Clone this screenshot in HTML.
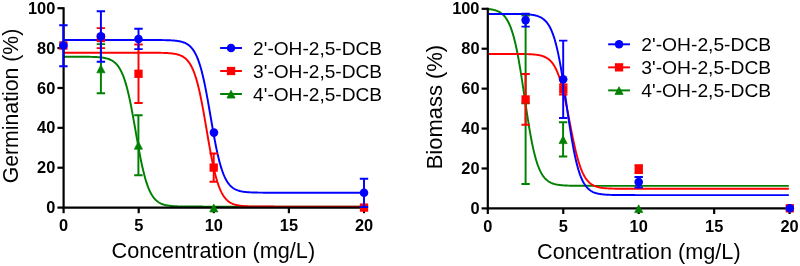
<!DOCTYPE html>
<html><head><meta charset="utf-8"><style>
html,body{margin:0;padding:0;background:#fff;}
svg{display:block;will-change:transform;opacity:0.999}
text{font-family:"Liberation Sans",sans-serif;fill:#000}
.t{font-size:16.4px;font-weight:bold}
.l{font-size:21.7px}
.ly{font-size:22.6px}
.g{font-size:19.1px}
</style></head><body>
<svg width="800" height="266" viewBox="0 0 800 266">
<path d="M63.60,56.70L64.20,56.70L64.80,56.70L65.40,56.70L66.00,56.70L66.60,56.70L67.20,56.70L67.81,56.70L68.41,56.70L69.01,56.71L69.61,56.71L70.21,56.71L70.81,56.71L71.41,56.71L72.01,56.71L72.61,56.71L73.21,56.71L73.81,56.71L74.41,56.71L75.02,56.71L75.62,56.71L76.22,56.72L76.82,56.72L77.42,56.72L78.02,56.72L78.62,56.72L79.22,56.73L79.82,56.73L80.42,56.73L81.02,56.73L81.62,56.74L82.22,56.74L82.83,56.75L83.43,56.75L84.03,56.75L84.63,56.76L85.23,56.77L85.83,56.77L86.43,56.78L87.03,56.79L87.63,56.79L88.23,56.80L88.83,56.81L89.43,56.82L90.04,56.84L90.64,56.85L91.24,56.86L91.84,56.88L92.44,56.90L93.04,56.92L93.64,56.94L94.24,56.96L94.84,56.99L95.44,57.01L96.04,57.04L96.64,57.08L97.24,57.11L97.85,57.15L98.45,57.19L99.05,57.24L99.65,57.29L100.25,57.35L100.85,57.41L101.45,57.48L102.05,57.56L102.65,57.64L103.25,57.73L103.85,57.83L104.45,57.94L105.06,58.05L105.66,58.18L106.26,58.33L106.86,58.48L107.46,58.65L108.06,58.84L108.66,59.04L109.26,59.26L109.86,59.50L110.46,59.77L111.06,60.06L111.66,60.37L112.26,60.72L112.87,61.09L113.47,61.50L114.07,61.95L114.67,62.44L115.27,62.97L115.87,63.55L116.47,64.17L117.07,64.86L117.67,65.60L118.27,66.40L118.87,67.27L119.47,68.21L120.08,69.23L120.68,70.33L121.28,71.51L121.88,72.79L122.48,74.16L123.08,75.63L123.68,77.21L124.28,78.89L124.88,80.69L125.48,82.61L126.08,84.64L126.68,86.79L127.28,89.07L127.89,91.47L128.49,93.99L129.09,96.63L129.69,99.38L130.29,102.25L130.89,105.22L131.49,108.29L132.09,111.45L132.69,114.69L133.29,118.00L133.89,121.36L134.49,124.77L135.10,128.20L135.70,131.65L136.30,135.10L136.90,138.53L137.50,141.94L138.10,145.30L138.70,148.61L139.30,151.85L139.90,155.01L140.50,158.08L141.10,161.05L141.70,163.92L142.30,166.67L142.91,169.31L143.51,171.83L144.11,174.23L144.71,176.51L145.31,178.66L145.91,180.69L146.51,182.61L147.11,184.41L147.71,186.09L148.31,187.67L148.91,189.14L149.51,190.51L150.12,191.79L150.72,192.97L151.32,194.07L151.92,195.09L152.52,196.03L153.12,196.90L153.72,197.70L154.32,198.44L154.92,199.13L155.52,199.75L156.12,200.33L156.72,200.86L157.32,201.35L157.93,201.80L158.53,202.21L159.13,202.58L159.73,202.93L160.33,203.24L160.93,203.53L161.53,203.80L162.13,204.04L162.73,204.26L163.33,204.46L163.93,204.65L164.53,204.82L165.14,204.97L165.74,205.12L166.34,205.25L166.94,205.36L167.54,205.47L168.14,205.57L168.74,205.66L169.34,205.74L169.94,205.82L170.54,205.89L171.14,205.95L171.74,206.01L172.34,206.06L172.95,206.11L173.55,206.15L174.15,206.19L174.75,206.22L175.35,206.26L175.95,206.29L176.55,206.31L177.15,206.34L177.75,206.36L178.35,206.38L178.95,206.40L179.55,206.42L180.16,206.44L180.76,206.45L181.36,206.46L181.96,206.48L182.56,206.49L183.16,206.50L183.76,206.51L184.36,206.51L184.96,206.52L185.56,206.53L186.16,206.53L186.76,206.54L187.36,206.55L187.97,206.55L188.57,206.55L189.17,206.56L189.77,206.56L190.37,206.57L190.97,206.57L191.57,206.57L192.17,206.57L192.77,206.58L193.37,206.58L193.97,206.58L194.57,206.58L195.18,206.58L195.78,206.59L196.38,206.59L196.98,206.59L197.58,206.59L198.18,206.59L198.78,206.59L199.38,206.59L199.98,206.59L200.58,206.59L201.18,206.59L201.78,206.59L202.38,206.59L202.99,206.60L203.59,206.60L204.19,206.60L204.79,206.60L205.39,206.60L205.99,206.60L206.59,206.60L207.19,206.60L207.79,206.60L208.39,206.60L208.99,206.60L209.59,206.60L210.20,206.60L210.80,206.60L211.40,206.60L212.00,206.60L212.60,206.60L213.20,206.60L213.80,206.60L214.40,206.60L215.00,206.60L215.60,206.60L216.20,206.60L216.80,206.60L217.40,206.60L218.01,206.60L218.61,206.60L219.21,206.60L219.81,206.60L220.41,206.60L221.01,206.60L221.61,206.60L222.21,206.60L222.81,206.60L223.41,206.60L224.01,206.60L224.61,206.60L225.22,206.60L225.82,206.60L226.42,206.60L227.02,206.60L227.62,206.60L228.22,206.60L228.82,206.60L229.42,206.60L230.02,206.60L230.62,206.60L231.22,206.60L231.82,206.60L232.42,206.60L233.03,206.60L233.63,206.60L234.23,206.60L234.83,206.60L235.43,206.60L236.03,206.60L236.63,206.60L237.23,206.60L237.83,206.60L238.43,206.60L239.03,206.60L239.63,206.60L240.24,206.60L240.84,206.60L241.44,206.60L242.04,206.60L242.64,206.60L243.24,206.60L243.84,206.60L244.44,206.60L245.04,206.60L245.64,206.60L246.24,206.60L246.84,206.60L247.44,206.60L248.05,206.60L248.65,206.60L249.25,206.60L249.85,206.60L250.45,206.60L251.05,206.60L251.65,206.60L252.25,206.60L252.85,206.60L253.45,206.60L254.05,206.60L254.65,206.60L255.26,206.60L255.86,206.60L256.46,206.60L257.06,206.60L257.66,206.60L258.26,206.60L258.86,206.60L259.46,206.60L260.06,206.60L260.66,206.60L261.26,206.60L261.86,206.60L262.46,206.60L263.07,206.60L263.67,206.60L264.27,206.60L264.87,206.60L265.47,206.60L266.07,206.60L266.67,206.60L267.27,206.60L267.87,206.60L268.47,206.60L269.07,206.60L269.67,206.60L270.28,206.60L270.88,206.60L271.48,206.60L272.08,206.60L272.68,206.60L273.28,206.60L273.88,206.60L274.48,206.60L275.08,206.60L275.68,206.60L276.28,206.60L276.88,206.60L277.48,206.60L278.09,206.60L278.69,206.60L279.29,206.60L279.89,206.60L280.49,206.60L281.09,206.60L281.69,206.60L282.29,206.60L282.89,206.60L283.49,206.60L284.09,206.60L284.69,206.60L285.30,206.60L285.90,206.60L286.50,206.60L287.10,206.60L287.70,206.60L288.30,206.60L288.90,206.60L289.50,206.60L290.10,206.60L290.70,206.60L291.30,206.60L291.90,206.60L292.50,206.60L293.11,206.60L293.71,206.60L294.31,206.60L294.91,206.60L295.51,206.60L296.11,206.60L296.71,206.60L297.31,206.60L297.91,206.60L298.51,206.60L299.11,206.60L299.71,206.60L300.32,206.60L300.92,206.60L301.52,206.60L302.12,206.60L302.72,206.60L303.32,206.60L303.92,206.60L304.52,206.60L305.12,206.60L305.72,206.60L306.32,206.60L306.92,206.60L307.52,206.60L308.13,206.60L308.73,206.60L309.33,206.60L309.93,206.60L310.53,206.60L311.13,206.60L311.73,206.60L312.33,206.60L312.93,206.60L313.53,206.60L314.13,206.60L314.73,206.60L315.34,206.60L315.94,206.60L316.54,206.60L317.14,206.60L317.74,206.60L318.34,206.60L318.94,206.60L319.54,206.60L320.14,206.60L320.74,206.60L321.34,206.60L321.94,206.60L322.54,206.60L323.15,206.60L323.75,206.60L324.35,206.60L324.95,206.60L325.55,206.60L326.15,206.60L326.75,206.60L327.35,206.60L327.95,206.60L328.55,206.60L329.15,206.60L329.75,206.60L330.36,206.60L330.96,206.60L331.56,206.60L332.16,206.60L332.76,206.60L333.36,206.60L333.96,206.60L334.56,206.60L335.16,206.60L335.76,206.60L336.36,206.60L336.96,206.60L337.56,206.60L338.17,206.60L338.77,206.60L339.37,206.60L339.97,206.60L340.57,206.60L341.17,206.60L341.77,206.60L342.37,206.60L342.97,206.60L343.57,206.60L344.17,206.60L344.77,206.60L345.38,206.60L345.98,206.60L346.58,206.60L347.18,206.60L347.78,206.60L348.38,206.60L348.98,206.60L349.58,206.60L350.18,206.60L350.78,206.60L351.38,206.60L351.98,206.60L352.58,206.60L353.19,206.60L353.79,206.60L354.39,206.60L354.99,206.60L355.59,206.60L356.19,206.60L356.79,206.60L357.39,206.60L357.99,206.60L358.59,206.60L359.19,206.60L359.79,206.60L360.40,206.60L361.00,206.60L361.60,206.60L362.20,206.60L362.80,206.60L363.40,206.60L364.00,206.60" fill="none" stroke="#008000" stroke-width="1.95"/>
<path d="M63.60,52.70L64.20,52.70L64.80,52.70L65.40,52.70L66.00,52.70L66.60,52.70L67.20,52.70L67.81,52.70L68.41,52.70L69.01,52.70L69.61,52.70L70.21,52.70L70.81,52.70L71.41,52.70L72.01,52.70L72.61,52.70L73.21,52.70L73.81,52.70L74.41,52.70L75.02,52.70L75.62,52.70L76.22,52.70L76.82,52.70L77.42,52.70L78.02,52.70L78.62,52.70L79.22,52.70L79.82,52.70L80.42,52.70L81.02,52.70L81.62,52.70L82.22,52.70L82.83,52.70L83.43,52.70L84.03,52.70L84.63,52.70L85.23,52.70L85.83,52.70L86.43,52.70L87.03,52.70L87.63,52.70L88.23,52.70L88.83,52.70L89.43,52.70L90.04,52.70L90.64,52.70L91.24,52.70L91.84,52.70L92.44,52.70L93.04,52.70L93.64,52.70L94.24,52.70L94.84,52.70L95.44,52.70L96.04,52.70L96.64,52.70L97.24,52.70L97.85,52.70L98.45,52.70L99.05,52.70L99.65,52.70L100.25,52.70L100.85,52.70L101.45,52.70L102.05,52.70L102.65,52.70L103.25,52.70L103.85,52.70L104.45,52.70L105.06,52.70L105.66,52.70L106.26,52.70L106.86,52.70L107.46,52.70L108.06,52.70L108.66,52.70L109.26,52.70L109.86,52.70L110.46,52.70L111.06,52.70L111.66,52.70L112.26,52.70L112.87,52.70L113.47,52.70L114.07,52.70L114.67,52.70L115.27,52.70L115.87,52.70L116.47,52.70L117.07,52.70L117.67,52.70L118.27,52.70L118.87,52.70L119.47,52.70L120.08,52.70L120.68,52.70L121.28,52.70L121.88,52.70L122.48,52.70L123.08,52.70L123.68,52.70L124.28,52.70L124.88,52.70L125.48,52.70L126.08,52.70L126.68,52.70L127.28,52.70L127.89,52.70L128.49,52.70L129.09,52.70L129.69,52.70L130.29,52.70L130.89,52.70L131.49,52.70L132.09,52.70L132.69,52.70L133.29,52.70L133.89,52.70L134.49,52.70L135.10,52.70L135.70,52.70L136.30,52.70L136.90,52.70L137.50,52.70L138.10,52.70L138.70,52.70L139.30,52.71L139.90,52.71L140.50,52.71L141.10,52.71L141.70,52.71L142.30,52.71L142.91,52.71L143.51,52.71L144.11,52.71L144.71,52.71L145.31,52.71L145.91,52.71L146.51,52.72L147.11,52.72L147.71,52.72L148.31,52.72L148.91,52.72L149.51,52.72L150.12,52.73L150.72,52.73L151.32,52.73L151.92,52.74L152.52,52.74L153.12,52.74L153.72,52.75L154.32,52.75L154.92,52.76L155.52,52.76L156.12,52.77L156.72,52.77L157.32,52.78L157.93,52.79L158.53,52.80L159.13,52.81L159.73,52.82L160.33,52.83L160.93,52.84L161.53,52.85L162.13,52.87L162.73,52.88L163.33,52.90L163.93,52.92L164.53,52.94L165.14,52.97L165.74,52.99L166.34,53.02L166.94,53.05L167.54,53.09L168.14,53.12L168.74,53.16L169.34,53.21L169.94,53.26L170.54,53.31L171.14,53.37L171.74,53.43L172.34,53.50L172.95,53.58L173.55,53.66L174.15,53.76L174.75,53.86L175.35,53.97L175.95,54.09L176.55,54.22L177.15,54.37L177.75,54.53L178.35,54.70L178.95,54.89L179.55,55.10L180.16,55.33L180.76,55.58L181.36,55.85L181.96,56.15L182.56,56.47L183.16,56.83L183.76,57.21L184.36,57.63L184.96,58.09L185.56,58.59L186.16,59.14L186.76,59.73L187.36,60.37L187.97,61.07L188.57,61.83L189.17,62.66L189.77,63.55L190.37,64.52L190.97,65.56L191.57,66.69L192.17,67.91L192.77,69.22L193.37,70.62L193.97,72.14L194.57,73.75L195.18,75.49L195.78,77.33L196.38,79.30L196.98,81.39L197.58,83.60L198.18,85.93L198.78,88.40L199.38,90.98L199.98,93.69L200.58,96.52L201.18,99.47L201.78,102.52L202.38,105.67L202.99,108.91L203.59,112.24L204.19,115.63L204.79,119.09L205.39,122.58L205.99,126.11L206.59,129.65L207.19,133.19L207.79,136.72L208.39,140.21L208.99,143.67L209.59,147.06L210.20,150.39L210.80,153.63L211.40,156.78L212.00,159.83L212.60,162.78L213.20,165.61L213.80,168.32L214.40,170.90L215.00,173.37L215.60,175.70L216.20,177.91L216.80,180.00L217.40,181.97L218.01,183.81L218.61,185.55L219.21,187.16L219.81,188.68L220.41,190.08L221.01,191.39L221.61,192.61L222.21,193.74L222.81,194.78L223.41,195.75L224.01,196.64L224.61,197.47L225.22,198.23L225.82,198.93L226.42,199.57L227.02,200.16L227.62,200.71L228.22,201.21L228.82,201.67L229.42,202.09L230.02,202.47L230.62,202.83L231.22,203.15L231.82,203.45L232.42,203.72L233.03,203.97L233.63,204.20L234.23,204.41L234.83,204.60L235.43,204.77L236.03,204.93L236.63,205.08L237.23,205.21L237.83,205.33L238.43,205.44L239.03,205.54L239.63,205.64L240.24,205.72L240.84,205.80L241.44,205.87L242.04,205.93L242.64,205.99L243.24,206.04L243.84,206.09L244.44,206.14L245.04,206.18L245.64,206.21L246.24,206.25L246.84,206.28L247.44,206.31L248.05,206.33L248.65,206.36L249.25,206.38L249.85,206.40L250.45,206.42L251.05,206.43L251.65,206.45L252.25,206.46L252.85,206.47L253.45,206.48L254.05,206.49L254.65,206.50L255.26,206.51L255.86,206.52L256.46,206.53L257.06,206.53L257.66,206.54L258.26,206.54L258.86,206.55L259.46,206.55L260.06,206.56L260.66,206.56L261.26,206.56L261.86,206.57L262.46,206.57L263.07,206.57L263.67,206.58L264.27,206.58L264.87,206.58L265.47,206.58L266.07,206.58L266.67,206.58L267.27,206.59L267.87,206.59L268.47,206.59L269.07,206.59L269.67,206.59L270.28,206.59L270.88,206.59L271.48,206.59L272.08,206.59L272.68,206.59L273.28,206.59L273.88,206.59L274.48,206.60L275.08,206.60L275.68,206.60L276.28,206.60L276.88,206.60L277.48,206.60L278.09,206.60L278.69,206.60L279.29,206.60L279.89,206.60L280.49,206.60L281.09,206.60L281.69,206.60L282.29,206.60L282.89,206.60L283.49,206.60L284.09,206.60L284.69,206.60L285.30,206.60L285.90,206.60L286.50,206.60L287.10,206.60L287.70,206.60L288.30,206.60L288.90,206.60L289.50,206.60L290.10,206.60L290.70,206.60L291.30,206.60L291.90,206.60L292.50,206.60L293.11,206.60L293.71,206.60L294.31,206.60L294.91,206.60L295.51,206.60L296.11,206.60L296.71,206.60L297.31,206.60L297.91,206.60L298.51,206.60L299.11,206.60L299.71,206.60L300.32,206.60L300.92,206.60L301.52,206.60L302.12,206.60L302.72,206.60L303.32,206.60L303.92,206.60L304.52,206.60L305.12,206.60L305.72,206.60L306.32,206.60L306.92,206.60L307.52,206.60L308.13,206.60L308.73,206.60L309.33,206.60L309.93,206.60L310.53,206.60L311.13,206.60L311.73,206.60L312.33,206.60L312.93,206.60L313.53,206.60L314.13,206.60L314.73,206.60L315.34,206.60L315.94,206.60L316.54,206.60L317.14,206.60L317.74,206.60L318.34,206.60L318.94,206.60L319.54,206.60L320.14,206.60L320.74,206.60L321.34,206.60L321.94,206.60L322.54,206.60L323.15,206.60L323.75,206.60L324.35,206.60L324.95,206.60L325.55,206.60L326.15,206.60L326.75,206.60L327.35,206.60L327.95,206.60L328.55,206.60L329.15,206.60L329.75,206.60L330.36,206.60L330.96,206.60L331.56,206.60L332.16,206.60L332.76,206.60L333.36,206.60L333.96,206.60L334.56,206.60L335.16,206.60L335.76,206.60L336.36,206.60L336.96,206.60L337.56,206.60L338.17,206.60L338.77,206.60L339.37,206.60L339.97,206.60L340.57,206.60L341.17,206.60L341.77,206.60L342.37,206.60L342.97,206.60L343.57,206.60L344.17,206.60L344.77,206.60L345.38,206.60L345.98,206.60L346.58,206.60L347.18,206.60L347.78,206.60L348.38,206.60L348.98,206.60L349.58,206.60L350.18,206.60L350.78,206.60L351.38,206.60L351.98,206.60L352.58,206.60L353.19,206.60L353.79,206.60L354.39,206.60L354.99,206.60L355.59,206.60L356.19,206.60L356.79,206.60L357.39,206.60L357.99,206.60L358.59,206.60L359.19,206.60L359.79,206.60L360.40,206.60L361.00,206.60L361.60,206.60L362.20,206.60L362.80,206.60L363.40,206.60L364.00,206.60" fill="none" stroke="#ff0000" stroke-width="1.95"/>
<path d="M63.60,40.00L64.20,40.00L64.80,40.00L65.40,40.00L66.00,40.00L66.60,40.00L67.20,40.00L67.81,40.00L68.41,40.00L69.01,40.00L69.61,40.00L70.21,40.00L70.81,40.00L71.41,40.00L72.01,40.00L72.61,40.00L73.21,40.00L73.81,40.00L74.41,40.00L75.02,40.00L75.62,40.00L76.22,40.00L76.82,40.00L77.42,40.00L78.02,40.00L78.62,40.00L79.22,40.00L79.82,40.00L80.42,40.00L81.02,40.00L81.62,40.00L82.22,40.00L82.83,40.00L83.43,40.00L84.03,40.00L84.63,40.00L85.23,40.00L85.83,40.00L86.43,40.00L87.03,40.00L87.63,40.00L88.23,40.00L88.83,40.00L89.43,40.00L90.04,40.00L90.64,40.00L91.24,40.00L91.84,40.00L92.44,40.00L93.04,40.00L93.64,40.00L94.24,40.00L94.84,40.00L95.44,40.00L96.04,40.00L96.64,40.00L97.24,40.00L97.85,40.00L98.45,40.00L99.05,40.00L99.65,40.00L100.25,40.00L100.85,40.00L101.45,40.00L102.05,40.00L102.65,40.00L103.25,40.00L103.85,40.00L104.45,40.00L105.06,40.00L105.66,40.00L106.26,40.00L106.86,40.00L107.46,40.00L108.06,40.00L108.66,40.00L109.26,40.00L109.86,40.00L110.46,40.00L111.06,40.00L111.66,40.00L112.26,40.00L112.87,40.00L113.47,40.00L114.07,40.00L114.67,40.00L115.27,40.00L115.87,40.00L116.47,40.00L117.07,40.00L117.67,40.00L118.27,40.00L118.87,40.00L119.47,40.00L120.08,40.00L120.68,40.00L121.28,40.00L121.88,40.00L122.48,40.00L123.08,40.00L123.68,40.00L124.28,40.00L124.88,40.00L125.48,40.00L126.08,40.00L126.68,40.00L127.28,40.00L127.89,40.00L128.49,40.00L129.09,40.00L129.69,40.00L130.29,40.00L130.89,40.00L131.49,40.00L132.09,40.00L132.69,40.00L133.29,40.00L133.89,40.00L134.49,40.00L135.10,40.00L135.70,40.00L136.30,40.00L136.90,40.00L137.50,40.00L138.10,40.00L138.70,40.00L139.30,40.00L139.90,40.00L140.50,40.00L141.10,40.00L141.70,40.00L142.30,40.00L142.91,40.00L143.51,40.01L144.11,40.01L144.71,40.01L145.31,40.01L145.91,40.01L146.51,40.01L147.11,40.01L147.71,40.01L148.31,40.01L148.91,40.01L149.51,40.01L150.12,40.01L150.72,40.02L151.32,40.02L151.92,40.02L152.52,40.02L153.12,40.02L153.72,40.03L154.32,40.03L154.92,40.03L155.52,40.03L156.12,40.04L156.72,40.04L157.32,40.04L157.93,40.05L158.53,40.05L159.13,40.06L159.73,40.06L160.33,40.07L160.93,40.08L161.53,40.08L162.13,40.09L162.73,40.10L163.33,40.11L163.93,40.12L164.53,40.13L165.14,40.14L165.74,40.16L166.34,40.17L166.94,40.19L167.54,40.21L168.14,40.23L168.74,40.25L169.34,40.27L169.94,40.30L170.54,40.33L171.14,40.36L171.74,40.40L172.34,40.44L172.95,40.48L173.55,40.52L174.15,40.57L174.75,40.63L175.35,40.69L175.95,40.75L176.55,40.83L177.15,40.91L177.75,40.99L178.35,41.09L178.95,41.19L179.55,41.31L180.16,41.43L180.76,41.57L181.36,41.72L181.96,41.88L182.56,42.06L183.16,42.26L183.76,42.47L184.36,42.70L184.96,42.96L185.56,43.24L186.16,43.55L186.76,43.88L187.36,44.24L187.97,44.64L188.57,45.07L189.17,45.54L189.77,46.06L190.37,46.62L190.97,47.22L191.57,47.89L192.17,48.60L192.77,49.38L193.37,50.23L193.97,51.14L194.57,52.13L195.18,53.20L195.78,54.35L196.38,55.60L196.98,56.94L197.58,58.37L198.18,59.91L198.78,61.56L199.38,63.33L199.98,65.21L200.58,67.20L201.18,69.32L201.78,71.57L202.38,73.94L202.99,76.43L203.59,79.05L204.19,81.78L204.79,84.64L205.39,87.60L205.99,90.67L206.59,93.83L207.19,97.09L207.79,100.41L208.39,103.81L208.99,107.25L209.59,110.73L210.20,114.24L210.80,117.76L211.40,121.27L212.00,124.75L212.60,128.21L213.20,131.61L213.80,134.95L214.40,138.22L215.00,141.41L215.60,144.49L216.20,147.48L216.80,150.36L217.40,153.12L218.01,155.76L218.61,158.27L219.21,160.67L219.81,162.94L220.41,165.08L221.01,167.10L221.61,169.01L222.21,170.79L222.81,172.47L223.41,174.03L224.01,175.49L224.61,176.84L225.22,178.10L225.82,179.28L226.42,180.36L227.02,181.37L227.62,182.30L228.22,183.15L228.82,183.95L229.42,184.68L230.02,185.35L230.62,185.97L231.22,186.53L231.82,187.06L232.42,187.54L233.03,187.98L233.63,188.38L234.23,188.75L234.83,189.09L235.43,189.40L236.03,189.69L236.63,189.95L237.23,190.18L237.83,190.40L238.43,190.60L239.03,190.78L239.63,190.95L240.24,191.10L240.84,191.24L241.44,191.37L242.04,191.49L242.64,191.59L243.24,191.69L243.84,191.78L244.44,191.86L245.04,191.93L245.64,192.00L246.24,192.06L246.84,192.12L247.44,192.17L248.05,192.21L248.65,192.26L249.25,192.30L249.85,192.33L250.45,192.36L251.05,192.39L251.65,192.42L252.25,192.44L252.85,192.47L253.45,192.49L254.05,192.51L254.65,192.52L255.26,192.54L255.86,192.55L256.46,192.57L257.06,192.58L257.66,192.59L258.26,192.60L258.86,192.61L259.46,192.62L260.06,192.62L260.66,192.63L261.26,192.64L261.86,192.64L262.46,192.65L263.07,192.65L263.67,192.66L264.27,192.66L264.87,192.66L265.47,192.67L266.07,192.67L266.67,192.67L267.27,192.67L267.87,192.68L268.47,192.68L269.07,192.68L269.67,192.68L270.28,192.68L270.88,192.69L271.48,192.69L272.08,192.69L272.68,192.69L273.28,192.69L273.88,192.69L274.48,192.69L275.08,192.69L275.68,192.69L276.28,192.69L276.88,192.69L277.48,192.69L278.09,192.70L278.69,192.70L279.29,192.70L279.89,192.70L280.49,192.70L281.09,192.70L281.69,192.70L282.29,192.70L282.89,192.70L283.49,192.70L284.09,192.70L284.69,192.70L285.30,192.70L285.90,192.70L286.50,192.70L287.10,192.70L287.70,192.70L288.30,192.70L288.90,192.70L289.50,192.70L290.10,192.70L290.70,192.70L291.30,192.70L291.90,192.70L292.50,192.70L293.11,192.70L293.71,192.70L294.31,192.70L294.91,192.70L295.51,192.70L296.11,192.70L296.71,192.70L297.31,192.70L297.91,192.70L298.51,192.70L299.11,192.70L299.71,192.70L300.32,192.70L300.92,192.70L301.52,192.70L302.12,192.70L302.72,192.70L303.32,192.70L303.92,192.70L304.52,192.70L305.12,192.70L305.72,192.70L306.32,192.70L306.92,192.70L307.52,192.70L308.13,192.70L308.73,192.70L309.33,192.70L309.93,192.70L310.53,192.70L311.13,192.70L311.73,192.70L312.33,192.70L312.93,192.70L313.53,192.70L314.13,192.70L314.73,192.70L315.34,192.70L315.94,192.70L316.54,192.70L317.14,192.70L317.74,192.70L318.34,192.70L318.94,192.70L319.54,192.70L320.14,192.70L320.74,192.70L321.34,192.70L321.94,192.70L322.54,192.70L323.15,192.70L323.75,192.70L324.35,192.70L324.95,192.70L325.55,192.70L326.15,192.70L326.75,192.70L327.35,192.70L327.95,192.70L328.55,192.70L329.15,192.70L329.75,192.70L330.36,192.70L330.96,192.70L331.56,192.70L332.16,192.70L332.76,192.70L333.36,192.70L333.96,192.70L334.56,192.70L335.16,192.70L335.76,192.70L336.36,192.70L336.96,192.70L337.56,192.70L338.17,192.70L338.77,192.70L339.37,192.70L339.97,192.70L340.57,192.70L341.17,192.70L341.77,192.70L342.37,192.70L342.97,192.70L343.57,192.70L344.17,192.70L344.77,192.70L345.38,192.70L345.98,192.70L346.58,192.70L347.18,192.70L347.78,192.70L348.38,192.70L348.98,192.70L349.58,192.70L350.18,192.70L350.78,192.70L351.38,192.70L351.98,192.70L352.58,192.70L353.19,192.70L353.79,192.70L354.39,192.70L354.99,192.70L355.59,192.70L356.19,192.70L356.79,192.70L357.39,192.70L357.99,192.70L358.59,192.70L359.19,192.70L359.79,192.70L360.40,192.70L361.00,192.70L361.60,192.70L362.20,192.70L362.80,192.70L363.40,192.70L364.00,192.70" fill="none" stroke="#0000ff" stroke-width="1.95"/>
<path d="M63.60,7.20V208.60M62.60,207.60H365.00" stroke="#000" stroke-width="2.2" fill="none"/>
<path d="M57.40,207.60H63.60" stroke="#000" stroke-width="2.2"/>
<text x="55.30" y="213.20" text-anchor="end" class="t">0</text>
<path d="M57.40,167.72H63.60" stroke="#000" stroke-width="2.2"/>
<text x="55.30" y="173.32" text-anchor="end" class="t">20</text>
<path d="M57.40,127.84H63.60" stroke="#000" stroke-width="2.2"/>
<text x="55.30" y="133.44" text-anchor="end" class="t">40</text>
<path d="M57.40,87.96H63.60" stroke="#000" stroke-width="2.2"/>
<text x="55.30" y="93.56" text-anchor="end" class="t">60</text>
<path d="M57.40,48.08H63.60" stroke="#000" stroke-width="2.2"/>
<text x="55.30" y="53.68" text-anchor="end" class="t">80</text>
<path d="M57.40,8.20H63.60" stroke="#000" stroke-width="2.2"/>
<text x="55.30" y="13.80" text-anchor="end" class="t">100</text>
<path d="M63.60,207.60V213.20" stroke="#000" stroke-width="2.2"/>
<text x="63.60" y="230.90" text-anchor="middle" class="t">0</text>
<path d="M138.70,207.60V213.20" stroke="#000" stroke-width="2.2"/>
<text x="138.70" y="230.90" text-anchor="middle" class="t">5</text>
<path d="M213.80,207.60V213.20" stroke="#000" stroke-width="2.2"/>
<text x="213.80" y="230.90" text-anchor="middle" class="t">10</text>
<path d="M288.90,207.60V213.20" stroke="#000" stroke-width="2.2"/>
<text x="288.90" y="230.90" text-anchor="middle" class="t">15</text>
<path d="M364.00,207.60V213.20" stroke="#000" stroke-width="2.2"/>
<text x="364.00" y="230.90" text-anchor="middle" class="t">20</text>
<path d="M100.90,44.10V93.30M96.70,44.10H105.10M96.70,93.30H105.10" stroke="#008000" stroke-width="1.95" fill="none"/>
<path d="M100.90,65.00L105.00,72.80H96.80Z" fill="#008000" stroke="#008000" stroke-width="0.7" stroke-linejoin="round"/>
<path d="M138.40,115.20V175.20M134.20,115.20H142.60M134.20,175.20H142.60" stroke="#008000" stroke-width="1.95" fill="none"/>
<path d="M138.40,141.40L142.50,149.20H134.30Z" fill="#008000" stroke="#008000" stroke-width="0.7" stroke-linejoin="round"/>
<path d="M213.80,204.10L217.90,211.90H209.70Z" fill="#008000" stroke="#008000" stroke-width="0.7" stroke-linejoin="round"/>
<rect x="59.25" y="41.35" width="8.3" height="8.3" fill="#ff0000"/>
<path d="M100.90,28.10V48.10M96.70,28.10H105.10M96.70,48.10H105.10" stroke="#ff0000" stroke-width="1.95" fill="none"/>
<rect x="96.75" y="33.85" width="8.3" height="8.3" fill="#ff0000"/>
<path d="M138.50,44.40V102.90M134.30,44.40H142.70M134.30,102.90H142.70" stroke="#ff0000" stroke-width="1.95" fill="none"/>
<rect x="134.35" y="69.65" width="8.3" height="8.3" fill="#ff0000"/>
<path d="M213.70,153.40V181.80M209.50,153.40H217.90M209.50,181.80H217.90" stroke="#ff0000" stroke-width="1.95" fill="none"/>
<rect x="209.55" y="163.45" width="8.3" height="8.3" fill="#ff0000"/>
<rect x="359.85" y="203.45" width="8.3" height="8.3" fill="#ff0000"/>
<path d="M63.40,25.20V66.20M59.20,25.20H67.60M59.20,66.20H67.60" stroke="#0000ff" stroke-width="1.95" fill="none"/>
<circle cx="63.40" cy="45.50" r="4.3" fill="#0000ff"/>
<path d="M100.90,11.20V61.80M96.70,11.20H105.10M96.70,61.80H105.10" stroke="#0000ff" stroke-width="1.95" fill="none"/>
<circle cx="100.90" cy="36.40" r="4.3" fill="#0000ff"/>
<path d="M138.50,28.80V49.10M134.30,28.80H142.70M134.30,49.10H142.70" stroke="#0000ff" stroke-width="1.95" fill="none"/>
<circle cx="138.50" cy="39.00" r="4.3" fill="#0000ff"/>
<circle cx="213.95" cy="132.60" r="4.3" fill="#0000ff"/>
<path d="M364.00,178.80V206.90M359.80,178.80H368.20M359.80,206.90H368.20" stroke="#0000ff" stroke-width="1.95" fill="none"/>
<circle cx="364.00" cy="192.70" r="4.3" fill="#0000ff"/>
<path d="M220.15,48.00H241.95" stroke="#0000ff" stroke-width="1.95"/>
<circle cx="231.05" cy="48.00" r="4.3" fill="#0000ff"/>
<text x="253.10" y="54.80" class="g" textLength="129" lengthAdjust="spacingAndGlyphs">2'-OH-2,5-DCB</text>
<path d="M220.15,71.00H241.95" stroke="#ff0000" stroke-width="1.95"/>
<rect x="226.90" y="66.85" width="8.3" height="8.3" fill="#ff0000"/>
<text x="253.10" y="77.80" class="g" textLength="129" lengthAdjust="spacingAndGlyphs">3'-OH-2,5-DCB</text>
<path d="M220.15,94.00H241.95" stroke="#008000" stroke-width="1.95"/>
<path d="M231.05,90.30L235.15,98.10H226.95Z" fill="#008000" stroke="#008000" stroke-width="0.7" stroke-linejoin="round"/>
<text x="253.10" y="100.80" class="g" textLength="129" lengthAdjust="spacingAndGlyphs">4'-OH-2,5-DCB</text>
<text transform="translate(18,183.3) rotate(-90)" class="ly" textLength="154.6" lengthAdjust="spacingAndGlyphs">Germination (%)</text>
<text x="111.5" y="257.7" class="l" textLength="203.6" lengthAdjust="spacingAndGlyphs">Concentration (mg/L)</text>
<path d="M487.80,8.95L488.40,9.01L489.00,9.08L489.61,9.16L490.21,9.24L490.81,9.33L491.41,9.43L492.01,9.53L492.62,9.65L493.22,9.78L493.82,9.92L494.42,10.08L495.03,10.25L495.63,10.43L496.23,10.63L496.83,10.86L497.43,11.10L498.04,11.36L498.64,11.65L499.24,11.97L499.84,12.31L500.44,12.69L501.05,13.10L501.65,13.55L502.25,14.04L502.85,14.57L503.45,15.15L504.06,15.78L504.66,16.47L505.26,17.21L505.86,18.02L506.46,18.90L507.07,19.86L507.67,20.89L508.27,22.01L508.87,23.22L509.48,24.52L510.08,25.93L510.68,27.44L511.28,29.07L511.88,30.81L512.49,32.68L513.09,34.68L513.69,36.81L514.29,39.08L514.89,41.49L515.50,44.04L516.10,46.73L516.70,49.57L517.30,52.55L517.90,55.67L518.51,58.93L519.11,62.32L519.71,65.84L520.31,69.46L520.92,73.20L521.52,77.03L522.12,80.93L522.72,84.91L523.32,88.93L523.93,92.99L524.53,97.06L525.13,101.14L525.73,105.20L526.33,109.22L526.94,113.20L527.54,117.10L528.14,120.93L528.74,124.67L529.34,128.30L529.95,131.81L530.55,135.20L531.15,138.46L531.75,141.58L532.35,144.57L532.96,147.40L533.56,150.10L534.16,152.65L534.76,155.06L535.37,157.33L535.97,159.46L536.57,161.46L537.17,163.33L537.77,165.07L538.38,166.70L538.98,168.21L539.58,169.62L540.18,170.93L540.78,172.13L541.39,173.25L541.99,174.29L542.59,175.24L543.19,176.12L543.79,176.93L544.40,177.68L545.00,178.37L545.60,179.00L546.20,179.58L546.80,180.11L547.41,180.60L548.01,181.05L548.61,181.46L549.21,181.84L549.82,182.18L550.42,182.50L551.02,182.79L551.62,183.05L552.22,183.29L552.83,183.51L553.43,183.72L554.03,183.90L554.63,184.07L555.23,184.23L555.84,184.37L556.44,184.50L557.04,184.61L557.64,184.72L558.24,184.82L558.85,184.91L559.45,184.99L560.05,185.07L560.65,185.14L561.26,185.20L561.86,185.26L562.46,185.31L563.06,185.35L563.66,185.40L564.27,185.44L564.87,185.47L565.47,185.51L566.07,185.54L566.67,185.56L567.28,185.59L567.88,185.61L568.48,185.63L569.08,185.65L569.68,185.67L570.29,185.69L570.89,185.70L571.49,185.71L572.09,185.72L572.69,185.74L573.30,185.75L573.90,185.76L574.50,185.76L575.10,185.77L575.71,185.78L576.31,185.78L576.91,185.79L577.51,185.80L578.11,185.80L578.72,185.80L579.32,185.81L579.92,185.81L580.52,185.82L581.12,185.82L581.73,185.82L582.33,185.82L582.93,185.83L583.53,185.83L584.13,185.83L584.74,185.83L585.34,185.83L585.94,185.83L586.54,185.84L587.15,185.84L587.75,185.84L588.35,185.84L588.95,185.84L589.55,185.84L590.16,185.84L590.76,185.84L591.36,185.84L591.96,185.84L592.56,185.84L593.17,185.84L593.77,185.85L594.37,185.85L594.97,185.85L595.57,185.85L596.18,185.85L596.78,185.85L597.38,185.85L597.98,185.85L598.58,185.85L599.19,185.85L599.79,185.85L600.39,185.85L600.99,185.85L601.60,185.85L602.20,185.85L602.80,185.85L603.40,185.85L604.00,185.85L604.61,185.85L605.21,185.85L605.81,185.85L606.41,185.85L607.01,185.85L607.62,185.85L608.22,185.85L608.82,185.85L609.42,185.85L610.02,185.85L610.63,185.85L611.23,185.85L611.83,185.85L612.43,185.85L613.03,185.85L613.64,185.85L614.24,185.85L614.84,185.85L615.44,185.85L616.05,185.85L616.65,185.85L617.25,185.85L617.85,185.85L618.45,185.85L619.06,185.85L619.66,185.85L620.26,185.85L620.86,185.85L621.46,185.85L622.07,185.85L622.67,185.85L623.27,185.85L623.87,185.85L624.47,185.85L625.08,185.85L625.68,185.85L626.28,185.85L626.88,185.85L627.49,185.85L628.09,185.85L628.69,185.85L629.29,185.85L629.89,185.85L630.50,185.85L631.10,185.85L631.70,185.85L632.30,185.85L632.90,185.85L633.51,185.85L634.11,185.85L634.71,185.85L635.31,185.85L635.91,185.85L636.52,185.85L637.12,185.85L637.72,185.85L638.32,185.85L638.92,185.85L639.53,185.85L640.13,185.85L640.73,185.85L641.33,185.85L641.94,185.85L642.54,185.85L643.14,185.85L643.74,185.85L644.34,185.85L644.95,185.85L645.55,185.85L646.15,185.85L646.75,185.85L647.35,185.85L647.96,185.85L648.56,185.85L649.16,185.85L649.76,185.85L650.36,185.85L650.97,185.85L651.57,185.85L652.17,185.85L652.77,185.85L653.38,185.85L653.98,185.85L654.58,185.85L655.18,185.85L655.78,185.85L656.39,185.85L656.99,185.85L657.59,185.85L658.19,185.85L658.79,185.85L659.40,185.85L660.00,185.85L660.60,185.85L661.20,185.85L661.80,185.85L662.41,185.85L663.01,185.85L663.61,185.85L664.21,185.85L664.81,185.85L665.42,185.85L666.02,185.85L666.62,185.85L667.22,185.85L667.83,185.85L668.43,185.85L669.03,185.85L669.63,185.85L670.23,185.85L670.84,185.85L671.44,185.85L672.04,185.85L672.64,185.85L673.24,185.85L673.85,185.85L674.45,185.85L675.05,185.85L675.65,185.85L676.25,185.85L676.86,185.85L677.46,185.85L678.06,185.85L678.66,185.85L679.26,185.85L679.87,185.85L680.47,185.85L681.07,185.85L681.67,185.85L682.28,185.85L682.88,185.85L683.48,185.85L684.08,185.85L684.68,185.85L685.29,185.85L685.89,185.85L686.49,185.85L687.09,185.85L687.69,185.85L688.30,185.85L688.90,185.85L689.50,185.85L690.10,185.85L690.70,185.85L691.31,185.85L691.91,185.85L692.51,185.85L693.11,185.85L693.72,185.85L694.32,185.85L694.92,185.85L695.52,185.85L696.12,185.85L696.73,185.85L697.33,185.85L697.93,185.85L698.53,185.85L699.13,185.85L699.74,185.85L700.34,185.85L700.94,185.85L701.54,185.85L702.14,185.85L702.75,185.85L703.35,185.85L703.95,185.85L704.55,185.85L705.15,185.85L705.76,185.85L706.36,185.85L706.96,185.85L707.56,185.85L708.17,185.85L708.77,185.85L709.37,185.85L709.97,185.85L710.57,185.85L711.18,185.85L711.78,185.85L712.38,185.85L712.98,185.85L713.58,185.85L714.19,185.85L714.79,185.85L715.39,185.85L715.99,185.85L716.59,185.85L717.20,185.85L717.80,185.85L718.40,185.85L719.00,185.85L719.61,185.85L720.21,185.85L720.81,185.85L721.41,185.85L722.01,185.85L722.62,185.85L723.22,185.85L723.82,185.85L724.42,185.85L725.02,185.85L725.63,185.85L726.23,185.85L726.83,185.85L727.43,185.85L728.03,185.85L728.64,185.85L729.24,185.85L729.84,185.85L730.44,185.85L731.04,185.85L731.65,185.85L732.25,185.85L732.85,185.85L733.45,185.85L734.06,185.85L734.66,185.85L735.26,185.85L735.86,185.85L736.46,185.85L737.07,185.85L737.67,185.85L738.27,185.85L738.87,185.85L739.47,185.85L740.08,185.85L740.68,185.85L741.28,185.85L741.88,185.85L742.48,185.85L743.09,185.85L743.69,185.85L744.29,185.85L744.89,185.85L745.49,185.85L746.10,185.85L746.70,185.85L747.30,185.85L747.90,185.85L748.51,185.85L749.11,185.85L749.71,185.85L750.31,185.85L750.91,185.85L751.52,185.85L752.12,185.85L752.72,185.85L753.32,185.85L753.92,185.85L754.53,185.85L755.13,185.85L755.73,185.85L756.33,185.85L756.93,185.85L757.54,185.85L758.14,185.85L758.74,185.85L759.34,185.85L759.95,185.85L760.55,185.85L761.15,185.85L761.75,185.85L762.35,185.85L762.96,185.85L763.56,185.85L764.16,185.85L764.76,185.85L765.36,185.85L765.97,185.85L766.57,185.85L767.17,185.85L767.77,185.85L768.37,185.85L768.98,185.85L769.58,185.85L770.18,185.85L770.78,185.85L771.38,185.85L771.99,185.85L772.59,185.85L773.19,185.85L773.79,185.85L774.40,185.85L775.00,185.85L775.60,185.85L776.20,185.85L776.80,185.85L777.41,185.85L778.01,185.85L778.61,185.85L779.21,185.85L779.81,185.85L780.42,185.85L781.02,185.85L781.62,185.85L782.22,185.85L782.82,185.85L783.43,185.85L784.03,185.85L784.63,185.85L785.23,185.85L785.84,185.85L786.44,185.85L787.04,185.85L787.64,185.85L788.24,185.85L788.85,185.85" fill="none" stroke="#008000" stroke-width="1.95"/>
<path d="M487.80,53.90L488.40,53.90L489.00,53.90L489.61,53.90L490.21,53.90L490.81,53.90L491.41,53.90L492.01,53.90L492.62,53.90L493.22,53.90L493.82,53.90L494.42,53.90L495.03,53.90L495.63,53.90L496.23,53.90L496.83,53.90L497.43,53.90L498.04,53.90L498.64,53.90L499.24,53.90L499.84,53.90L500.44,53.90L501.05,53.90L501.65,53.90L502.25,53.90L502.85,53.91L503.45,53.91L504.06,53.91L504.66,53.91L505.26,53.91L505.86,53.91L506.46,53.91L507.07,53.91L507.67,53.91L508.27,53.91L508.87,53.91L509.48,53.91L510.08,53.92L510.68,53.92L511.28,53.92L511.88,53.92L512.49,53.92L513.09,53.92L513.69,53.93L514.29,53.93L514.89,53.93L515.50,53.94L516.10,53.94L516.70,53.94L517.30,53.95L517.90,53.95L518.51,53.96L519.11,53.96L519.71,53.97L520.31,53.97L520.92,53.98L521.52,53.99L522.12,54.00L522.72,54.01L523.32,54.02L523.93,54.03L524.53,54.04L525.13,54.05L525.73,54.07L526.33,54.08L526.94,54.10L527.54,54.12L528.14,54.14L528.74,54.17L529.34,54.19L529.95,54.22L530.55,54.25L531.15,54.29L531.75,54.32L532.35,54.36L532.96,54.41L533.56,54.46L534.16,54.51L534.76,54.57L535.37,54.63L535.97,54.70L536.57,54.78L537.17,54.86L537.77,54.95L538.38,55.05L538.98,55.16L539.58,55.28L540.18,55.41L540.78,55.56L541.39,55.72L541.99,55.89L542.59,56.08L543.19,56.28L543.79,56.51L544.40,56.75L545.00,57.02L545.60,57.31L546.20,57.63L546.80,57.98L547.41,58.36L548.01,58.78L548.61,59.23L549.21,59.72L549.82,60.25L550.42,60.83L551.02,61.46L551.62,62.14L552.22,62.88L552.83,63.68L553.43,64.55L554.03,65.49L554.63,66.50L555.23,67.59L555.84,68.76L556.44,70.02L557.04,71.37L557.64,72.81L558.24,74.36L558.85,76.00L559.45,77.76L560.05,79.61L560.65,81.58L561.26,83.66L561.86,85.84L562.46,88.14L563.06,90.54L563.66,93.04L564.27,95.64L564.87,98.33L565.47,101.11L566.07,103.97L566.67,106.89L567.28,109.88L567.88,112.91L568.48,115.97L569.08,119.06L569.68,122.16L570.29,125.25L570.89,128.33L571.49,131.38L572.09,134.39L572.69,137.34L573.30,140.23L573.90,143.05L574.50,145.78L575.10,148.43L575.71,150.98L576.31,153.43L576.91,155.77L577.51,158.01L578.11,160.14L578.72,162.16L579.32,164.07L579.92,165.87L580.52,167.57L581.12,169.16L581.73,170.65L582.33,172.05L582.93,173.35L583.53,174.56L584.13,175.69L584.74,176.74L585.34,177.71L585.94,178.61L586.54,179.44L587.15,180.21L587.75,180.92L588.35,181.58L588.95,182.18L589.55,182.73L590.16,183.24L590.76,183.71L591.36,184.14L591.96,184.54L592.56,184.90L593.17,185.24L593.77,185.54L594.37,185.82L594.97,186.08L595.57,186.31L596.18,186.53L596.78,186.72L597.38,186.90L597.98,187.07L598.58,187.22L599.19,187.36L599.79,187.48L600.39,187.60L600.99,187.70L601.60,187.80L602.20,187.88L602.80,187.96L603.40,188.04L604.00,188.10L604.61,188.16L605.21,188.22L605.81,188.27L606.41,188.32L607.01,188.36L607.62,188.40L608.22,188.43L608.82,188.47L609.42,188.49L610.02,188.52L610.63,188.55L611.23,188.57L611.83,188.59L612.43,188.61L613.03,188.62L613.64,188.64L614.24,188.65L614.84,188.67L615.44,188.68L616.05,188.69L616.65,188.70L617.25,188.71L617.85,188.72L618.45,188.72L619.06,188.73L619.66,188.74L620.26,188.74L620.86,188.75L621.46,188.75L622.07,188.76L622.67,188.76L623.27,188.76L623.87,188.77L624.47,188.77L625.08,188.77L625.68,188.77L626.28,188.78L626.88,188.78L627.49,188.78L628.09,188.78L628.69,188.78L629.29,188.79L629.89,188.79L630.50,188.79L631.10,188.79L631.70,188.79L632.30,188.79L632.90,188.79L633.51,188.79L634.11,188.79L634.71,188.79L635.31,188.79L635.91,188.79L636.52,188.80L637.12,188.80L637.72,188.80L638.32,188.80L638.92,188.80L639.53,188.80L640.13,188.80L640.73,188.80L641.33,188.80L641.94,188.80L642.54,188.80L643.14,188.80L643.74,188.80L644.34,188.80L644.95,188.80L645.55,188.80L646.15,188.80L646.75,188.80L647.35,188.80L647.96,188.80L648.56,188.80L649.16,188.80L649.76,188.80L650.36,188.80L650.97,188.80L651.57,188.80L652.17,188.80L652.77,188.80L653.38,188.80L653.98,188.80L654.58,188.80L655.18,188.80L655.78,188.80L656.39,188.80L656.99,188.80L657.59,188.80L658.19,188.80L658.79,188.80L659.40,188.80L660.00,188.80L660.60,188.80L661.20,188.80L661.80,188.80L662.41,188.80L663.01,188.80L663.61,188.80L664.21,188.80L664.81,188.80L665.42,188.80L666.02,188.80L666.62,188.80L667.22,188.80L667.83,188.80L668.43,188.80L669.03,188.80L669.63,188.80L670.23,188.80L670.84,188.80L671.44,188.80L672.04,188.80L672.64,188.80L673.24,188.80L673.85,188.80L674.45,188.80L675.05,188.80L675.65,188.80L676.25,188.80L676.86,188.80L677.46,188.80L678.06,188.80L678.66,188.80L679.26,188.80L679.87,188.80L680.47,188.80L681.07,188.80L681.67,188.80L682.28,188.80L682.88,188.80L683.48,188.80L684.08,188.80L684.68,188.80L685.29,188.80L685.89,188.80L686.49,188.80L687.09,188.80L687.69,188.80L688.30,188.80L688.90,188.80L689.50,188.80L690.10,188.80L690.70,188.80L691.31,188.80L691.91,188.80L692.51,188.80L693.11,188.80L693.72,188.80L694.32,188.80L694.92,188.80L695.52,188.80L696.12,188.80L696.73,188.80L697.33,188.80L697.93,188.80L698.53,188.80L699.13,188.80L699.74,188.80L700.34,188.80L700.94,188.80L701.54,188.80L702.14,188.80L702.75,188.80L703.35,188.80L703.95,188.80L704.55,188.80L705.15,188.80L705.76,188.80L706.36,188.80L706.96,188.80L707.56,188.80L708.17,188.80L708.77,188.80L709.37,188.80L709.97,188.80L710.57,188.80L711.18,188.80L711.78,188.80L712.38,188.80L712.98,188.80L713.58,188.80L714.19,188.80L714.79,188.80L715.39,188.80L715.99,188.80L716.59,188.80L717.20,188.80L717.80,188.80L718.40,188.80L719.00,188.80L719.61,188.80L720.21,188.80L720.81,188.80L721.41,188.80L722.01,188.80L722.62,188.80L723.22,188.80L723.82,188.80L724.42,188.80L725.02,188.80L725.63,188.80L726.23,188.80L726.83,188.80L727.43,188.80L728.03,188.80L728.64,188.80L729.24,188.80L729.84,188.80L730.44,188.80L731.04,188.80L731.65,188.80L732.25,188.80L732.85,188.80L733.45,188.80L734.06,188.80L734.66,188.80L735.26,188.80L735.86,188.80L736.46,188.80L737.07,188.80L737.67,188.80L738.27,188.80L738.87,188.80L739.47,188.80L740.08,188.80L740.68,188.80L741.28,188.80L741.88,188.80L742.48,188.80L743.09,188.80L743.69,188.80L744.29,188.80L744.89,188.80L745.49,188.80L746.10,188.80L746.70,188.80L747.30,188.80L747.90,188.80L748.51,188.80L749.11,188.80L749.71,188.80L750.31,188.80L750.91,188.80L751.52,188.80L752.12,188.80L752.72,188.80L753.32,188.80L753.92,188.80L754.53,188.80L755.13,188.80L755.73,188.80L756.33,188.80L756.93,188.80L757.54,188.80L758.14,188.80L758.74,188.80L759.34,188.80L759.95,188.80L760.55,188.80L761.15,188.80L761.75,188.80L762.35,188.80L762.96,188.80L763.56,188.80L764.16,188.80L764.76,188.80L765.36,188.80L765.97,188.80L766.57,188.80L767.17,188.80L767.77,188.80L768.37,188.80L768.98,188.80L769.58,188.80L770.18,188.80L770.78,188.80L771.38,188.80L771.99,188.80L772.59,188.80L773.19,188.80L773.79,188.80L774.40,188.80L775.00,188.80L775.60,188.80L776.20,188.80L776.80,188.80L777.41,188.80L778.01,188.80L778.61,188.80L779.21,188.80L779.81,188.80L780.42,188.80L781.02,188.80L781.62,188.80L782.22,188.80L782.82,188.80L783.43,188.80L784.03,188.80L784.63,188.80L785.23,188.80L785.84,188.80L786.44,188.80L787.04,188.80L787.64,188.80L788.24,188.80L788.85,188.80" fill="none" stroke="#ff0000" stroke-width="1.95"/>
<path d="M487.80,13.90L488.40,13.90L489.00,13.90L489.61,13.90L490.21,13.90L490.81,13.90L491.41,13.90L492.01,13.90L492.62,13.90L493.22,13.90L493.82,13.90L494.42,13.90L495.03,13.90L495.63,13.90L496.23,13.90L496.83,13.90L497.43,13.90L498.04,13.91L498.64,13.91L499.24,13.91L499.84,13.91L500.44,13.91L501.05,13.91L501.65,13.91L502.25,13.91L502.85,13.91L503.45,13.91L504.06,13.91L504.66,13.91L505.26,13.92L505.86,13.92L506.46,13.92L507.07,13.92L507.67,13.92L508.27,13.93L508.87,13.93L509.48,13.93L510.08,13.93L510.68,13.94L511.28,13.94L511.88,13.94L512.49,13.95L513.09,13.95L513.69,13.96L514.29,13.96L514.89,13.97L515.50,13.98L516.10,13.98L516.70,13.99L517.30,14.00L517.90,14.01L518.51,14.02L519.11,14.03L519.71,14.04L520.31,14.06L520.92,14.07L521.52,14.09L522.12,14.11L522.72,14.13L523.32,14.15L523.93,14.17L524.53,14.20L525.13,14.23L525.73,14.26L526.33,14.29L526.94,14.33L527.54,14.37L528.14,14.42L528.74,14.47L529.34,14.52L529.95,14.58L530.55,14.65L531.15,14.72L531.75,14.80L532.35,14.88L532.96,14.98L533.56,15.08L534.16,15.19L534.76,15.32L535.37,15.45L535.97,15.60L536.57,15.76L537.17,15.94L537.77,16.13L538.38,16.34L538.98,16.57L539.58,16.83L540.18,17.10L540.78,17.41L541.39,17.74L541.99,18.10L542.59,18.49L543.19,18.92L543.79,19.39L544.40,19.90L545.00,20.46L545.60,21.06L546.20,21.72L546.80,22.44L547.41,23.22L548.01,24.06L548.61,24.98L549.21,25.98L549.82,27.06L550.42,28.22L551.02,29.48L551.62,30.84L552.22,32.31L552.83,33.88L553.43,35.57L554.03,37.39L554.63,39.33L555.23,41.41L555.84,43.62L556.44,45.97L557.04,48.47L557.64,51.11L558.24,53.91L558.85,56.84L559.45,59.93L560.05,63.15L560.65,66.51L561.26,70.01L561.86,73.63L562.46,77.36L563.06,81.20L563.66,85.13L564.27,89.14L564.87,93.21L565.47,97.33L566.07,101.48L566.67,105.64L567.28,109.79L567.88,113.93L568.48,118.02L569.08,122.06L569.68,126.03L570.29,129.91L570.89,133.69L571.49,137.36L572.09,140.92L572.69,144.34L573.30,147.63L573.90,150.78L574.50,153.78L575.10,156.64L575.71,159.35L576.31,161.91L576.91,164.33L577.51,166.61L578.11,168.74L578.72,170.75L579.32,172.62L579.92,174.37L580.52,175.99L581.12,177.51L581.73,178.91L582.33,180.22L582.93,181.43L583.53,182.54L584.13,183.58L584.74,184.53L585.34,185.41L585.94,186.22L586.54,186.96L587.15,187.65L587.75,188.28L588.35,188.85L588.95,189.38L589.55,189.87L590.16,190.32L590.76,190.73L591.36,191.10L591.96,191.45L592.56,191.76L593.17,192.05L593.77,192.31L594.37,192.55L594.97,192.78L595.57,192.98L596.18,193.16L596.78,193.33L597.38,193.48L597.98,193.62L598.58,193.75L599.19,193.87L599.79,193.98L600.39,194.08L600.99,194.17L601.60,194.25L602.20,194.32L602.80,194.39L603.40,194.45L604.00,194.51L604.61,194.56L605.21,194.61L605.81,194.65L606.41,194.69L607.01,194.73L607.62,194.76L608.22,194.79L608.82,194.82L609.42,194.84L610.02,194.86L610.63,194.88L611.23,194.90L611.83,194.92L612.43,194.94L613.03,194.95L613.64,194.96L614.24,194.98L614.84,194.99L615.44,195.00L616.05,195.01L616.65,195.01L617.25,195.02L617.85,195.03L618.45,195.03L619.06,195.04L619.66,195.05L620.26,195.05L620.86,195.05L621.46,195.06L622.07,195.06L622.67,195.07L623.27,195.07L623.87,195.07L624.47,195.07L625.08,195.08L625.68,195.08L626.28,195.08L626.88,195.08L627.49,195.08L628.09,195.08L628.69,195.09L629.29,195.09L629.89,195.09L630.50,195.09L631.10,195.09L631.70,195.09L632.30,195.09L632.90,195.09L633.51,195.09L634.11,195.09L634.71,195.09L635.31,195.10L635.91,195.10L636.52,195.10L637.12,195.10L637.72,195.10L638.32,195.10L638.92,195.10L639.53,195.10L640.13,195.10L640.73,195.10L641.33,195.10L641.94,195.10L642.54,195.10L643.14,195.10L643.74,195.10L644.34,195.10L644.95,195.10L645.55,195.10L646.15,195.10L646.75,195.10L647.35,195.10L647.96,195.10L648.56,195.10L649.16,195.10L649.76,195.10L650.36,195.10L650.97,195.10L651.57,195.10L652.17,195.10L652.77,195.10L653.38,195.10L653.98,195.10L654.58,195.10L655.18,195.10L655.78,195.10L656.39,195.10L656.99,195.10L657.59,195.10L658.19,195.10L658.79,195.10L659.40,195.10L660.00,195.10L660.60,195.10L661.20,195.10L661.80,195.10L662.41,195.10L663.01,195.10L663.61,195.10L664.21,195.10L664.81,195.10L665.42,195.10L666.02,195.10L666.62,195.10L667.22,195.10L667.83,195.10L668.43,195.10L669.03,195.10L669.63,195.10L670.23,195.10L670.84,195.10L671.44,195.10L672.04,195.10L672.64,195.10L673.24,195.10L673.85,195.10L674.45,195.10L675.05,195.10L675.65,195.10L676.25,195.10L676.86,195.10L677.46,195.10L678.06,195.10L678.66,195.10L679.26,195.10L679.87,195.10L680.47,195.10L681.07,195.10L681.67,195.10L682.28,195.10L682.88,195.10L683.48,195.10L684.08,195.10L684.68,195.10L685.29,195.10L685.89,195.10L686.49,195.10L687.09,195.10L687.69,195.10L688.30,195.10L688.90,195.10L689.50,195.10L690.10,195.10L690.70,195.10L691.31,195.10L691.91,195.10L692.51,195.10L693.11,195.10L693.72,195.10L694.32,195.10L694.92,195.10L695.52,195.10L696.12,195.10L696.73,195.10L697.33,195.10L697.93,195.10L698.53,195.10L699.13,195.10L699.74,195.10L700.34,195.10L700.94,195.10L701.54,195.10L702.14,195.10L702.75,195.10L703.35,195.10L703.95,195.10L704.55,195.10L705.15,195.10L705.76,195.10L706.36,195.10L706.96,195.10L707.56,195.10L708.17,195.10L708.77,195.10L709.37,195.10L709.97,195.10L710.57,195.10L711.18,195.10L711.78,195.10L712.38,195.10L712.98,195.10L713.58,195.10L714.19,195.10L714.79,195.10L715.39,195.10L715.99,195.10L716.59,195.10L717.20,195.10L717.80,195.10L718.40,195.10L719.00,195.10L719.61,195.10L720.21,195.10L720.81,195.10L721.41,195.10L722.01,195.10L722.62,195.10L723.22,195.10L723.82,195.10L724.42,195.10L725.02,195.10L725.63,195.10L726.23,195.10L726.83,195.10L727.43,195.10L728.03,195.10L728.64,195.10L729.24,195.10L729.84,195.10L730.44,195.10L731.04,195.10L731.65,195.10L732.25,195.10L732.85,195.10L733.45,195.10L734.06,195.10L734.66,195.10L735.26,195.10L735.86,195.10L736.46,195.10L737.07,195.10L737.67,195.10L738.27,195.10L738.87,195.10L739.47,195.10L740.08,195.10L740.68,195.10L741.28,195.10L741.88,195.10L742.48,195.10L743.09,195.10L743.69,195.10L744.29,195.10L744.89,195.10L745.49,195.10L746.10,195.10L746.70,195.10L747.30,195.10L747.90,195.10L748.51,195.10L749.11,195.10L749.71,195.10L750.31,195.10L750.91,195.10L751.52,195.10L752.12,195.10L752.72,195.10L753.32,195.10L753.92,195.10L754.53,195.10L755.13,195.10L755.73,195.10L756.33,195.10L756.93,195.10L757.54,195.10L758.14,195.10L758.74,195.10L759.34,195.10L759.95,195.10L760.55,195.10L761.15,195.10L761.75,195.10L762.35,195.10L762.96,195.10L763.56,195.10L764.16,195.10L764.76,195.10L765.36,195.10L765.97,195.10L766.57,195.10L767.17,195.10L767.77,195.10L768.37,195.10L768.98,195.10L769.58,195.10L770.18,195.10L770.78,195.10L771.38,195.10L771.99,195.10L772.59,195.10L773.19,195.10L773.79,195.10L774.40,195.10L775.00,195.10L775.60,195.10L776.20,195.10L776.80,195.10L777.41,195.10L778.01,195.10L778.61,195.10L779.21,195.10L779.81,195.10L780.42,195.10L781.02,195.10L781.62,195.10L782.22,195.10L782.82,195.10L783.43,195.10L784.03,195.10L784.63,195.10L785.23,195.10L785.84,195.10L786.44,195.10L787.04,195.10L787.64,195.10L788.24,195.10L788.85,195.10" fill="none" stroke="#0000ff" stroke-width="1.95"/>
<path d="M487.80,7.80V209.40M486.80,208.40H790.60" stroke="#000" stroke-width="2.2" fill="none"/>
<path d="M481.60,208.40H487.80" stroke="#000" stroke-width="2.2"/>
<text x="479.50" y="214.00" text-anchor="end" class="t">0</text>
<path d="M481.60,168.48H487.80" stroke="#000" stroke-width="2.2"/>
<text x="479.50" y="174.08" text-anchor="end" class="t">20</text>
<path d="M481.60,128.56H487.80" stroke="#000" stroke-width="2.2"/>
<text x="479.50" y="134.16" text-anchor="end" class="t">40</text>
<path d="M481.60,88.64H487.80" stroke="#000" stroke-width="2.2"/>
<text x="479.50" y="94.24" text-anchor="end" class="t">60</text>
<path d="M481.60,48.72H487.80" stroke="#000" stroke-width="2.2"/>
<text x="479.50" y="54.32" text-anchor="end" class="t">80</text>
<path d="M481.60,8.80H487.80" stroke="#000" stroke-width="2.2"/>
<text x="479.50" y="14.40" text-anchor="end" class="t">100</text>
<path d="M487.80,208.40V214.00" stroke="#000" stroke-width="2.2"/>
<text x="487.80" y="232.00" text-anchor="middle" class="t">0</text>
<path d="M563.25,208.40V214.00" stroke="#000" stroke-width="2.2"/>
<text x="563.25" y="232.00" text-anchor="middle" class="t">5</text>
<path d="M638.70,208.40V214.00" stroke="#000" stroke-width="2.2"/>
<text x="638.70" y="232.00" text-anchor="middle" class="t">10</text>
<path d="M714.15,208.40V214.00" stroke="#000" stroke-width="2.2"/>
<text x="714.15" y="232.00" text-anchor="middle" class="t">15</text>
<path d="M789.60,208.40V214.00" stroke="#000" stroke-width="2.2"/>
<text x="789.60" y="232.00" text-anchor="middle" class="t">20</text>
<path d="M525.60,15.60V183.90M521.40,15.60H529.80M521.40,183.90H529.80" stroke="#008000" stroke-width="1.95" fill="none"/>
<path d="M525.60,96.10L529.70,103.90H521.50Z" fill="#008000" stroke="#008000" stroke-width="0.7" stroke-linejoin="round"/>
<path d="M563.10,122.20V156.50M558.90,122.20H567.30M558.90,156.50H567.30" stroke="#008000" stroke-width="1.95" fill="none"/>
<path d="M563.10,135.80L567.20,143.60H559.00Z" fill="#008000" stroke="#008000" stroke-width="0.7" stroke-linejoin="round"/>
<path d="M638.70,204.80L642.80,212.60H634.60Z" fill="#008000" stroke="#008000" stroke-width="0.7" stroke-linejoin="round"/>
<path d="M525.60,73.90V124.80M521.40,73.90H529.80M521.40,124.80H529.80" stroke="#ff0000" stroke-width="1.95" fill="none"/>
<rect x="521.45" y="95.30" width="8.3" height="8.3" fill="#ff0000"/>
<path d="M563.30,84.40V94.60M559.10,84.40H567.50M559.10,94.60H567.50" stroke="#ff0000" stroke-width="1.95" fill="none"/>
<rect x="559.15" y="85.35" width="8.3" height="8.3" fill="#ff0000"/>
<path d="M638.75,165.10V172.90M634.55,165.10H642.95M634.55,172.90H642.95" stroke="#ff0000" stroke-width="1.95" fill="none"/>
<rect x="634.60" y="164.85" width="8.3" height="8.3" fill="#ff0000"/>
<rect x="785.65" y="204.15" width="8.3" height="8.3" fill="#ff0000"/>
<path d="M525.60,13.65V26.60M521.40,13.65H529.80M521.40,26.60H529.80" stroke="#0000ff" stroke-width="1.95" fill="none"/>
<circle cx="525.60" cy="20.10" r="4.3" fill="#0000ff"/>
<path d="M563.20,40.60V118.05M559.00,40.60H567.40M559.00,118.05H567.40" stroke="#0000ff" stroke-width="1.95" fill="none"/>
<circle cx="563.20" cy="79.30" r="4.3" fill="#0000ff"/>
<path d="M638.70,176.90V187.40M634.50,176.90H642.90M634.50,187.40H642.90" stroke="#0000ff" stroke-width="1.95" fill="none"/>
<circle cx="638.70" cy="182.10" r="4.3" fill="#0000ff"/>
<circle cx="789.80" cy="208.30" r="4.3" fill="#0000ff"/>
<path d="M608.15,44.30H629.95" stroke="#0000ff" stroke-width="1.95"/>
<circle cx="619.05" cy="44.30" r="4.3" fill="#0000ff"/>
<text x="641.35" y="51.10" class="g" textLength="129.8" lengthAdjust="spacingAndGlyphs">2'-OH-2,5-DCB</text>
<path d="M608.15,67.35H629.95" stroke="#ff0000" stroke-width="1.95"/>
<rect x="614.90" y="63.20" width="8.3" height="8.3" fill="#ff0000"/>
<text x="641.35" y="74.15" class="g" textLength="129.8" lengthAdjust="spacingAndGlyphs">3'-OH-2,5-DCB</text>
<path d="M608.15,90.40H629.95" stroke="#008000" stroke-width="1.95"/>
<path d="M619.05,86.70L623.15,94.50H614.95Z" fill="#008000" stroke="#008000" stroke-width="0.7" stroke-linejoin="round"/>
<text x="641.35" y="97.20" class="g" textLength="129.8" lengthAdjust="spacingAndGlyphs">4'-OH-2,5-DCB</text>
<text transform="translate(441.5,169.3) rotate(-90)" class="ly" textLength="124.5" lengthAdjust="spacingAndGlyphs">Biomass (%)</text>
<text x="537.0" y="258.5" class="l" textLength="203.6" lengthAdjust="spacingAndGlyphs">Concentration (mg/L)</text>
</svg></body></html>
